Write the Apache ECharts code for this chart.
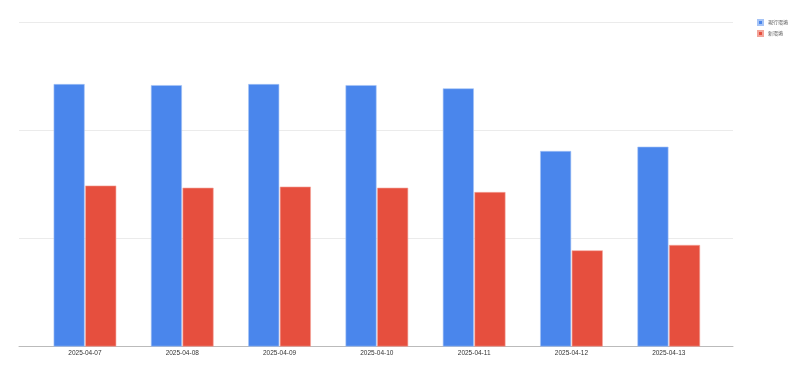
<!DOCTYPE html>
<html><head><meta charset="utf-8">
<script src="https://cdn.jsdelivr.net/npm/echarts@6/dist/echarts.min.js"></script>
<style>html,body{margin:0;padding:0;background:#fff}#c{width:800px;height:367px}</style>
</head><body><div id="c"></div>
<script>
var categories = ['2025-04-07','2025-04-08','2025-04-09','2025-04-10','2025-04-11','2025-04-12','2025-04-13'];
var seriesNames = ['現行環境','新環境'];
var currentValues = [243, 242, 243, 242, 239, 181, 185];
var newValues = [149, 147, 148, 147, 143, 89, 94];
var yTicks = [0, 100, 200, 300];

var chart = echarts.init(document.getElementById('c'), null, {renderer:'canvas'});
var yMax = yTicks[yTicks.length-1];
chart.setOption({
  animation:false,
  backgroundColor:'#fff',
  legend:{
    orient:'vertical', right:12, top:19, padding:0, itemWidth:5, itemHeight:5, itemGap:4,
    icon:'rect',
    textStyle:{fontSize:5, color:'#555', fontFamily:'Noto Sans CJK JP', padding:[0,0,0,0]},
    data:seriesNames
  },
  grid:[
    {left:19, right:67, top:22.5, bottom:20.5, containLabel:false},
    {left:36.3, right:82.6, top:22.5, bottom:20.5, containLabel:false}
  ],
  xAxis:[
    {gridIndex:0, type:'value', min:0, max:1, show:true,
     axisLine:{show:true, onZero:false, lineStyle:{color:'#bbb', width:1}},
     axisTick:{show:false}, axisLabel:{show:false}, splitLine:{show:false}},
    {gridIndex:1, type:'category', data:categories,
     axisLine:{show:false}, axisTick:{show:false},
     axisLabel:{fontSize:6.5, color:'#333', margin:3, fontFamily:'Arial'}}
  ],
  yAxis:[
    {gridIndex:0, type:'value', min:yTicks[0], max:yMax, interval:100,
     axisLabel:{show:false}, axisLine:{show:false}, axisTick:{show:false},
     splitLine:{lineStyle:{color:'#ebebeb', width:1}}},
    {gridIndex:1, type:'value', min:yTicks[0], max:yMax, interval:100,
     axisLabel:{show:false}, axisLine:{show:false}, axisTick:{show:false},
     splitLine:{show:false}}
  ],
  series:[
    {name:seriesNames[0], type:'bar', xAxisIndex:1, yAxisIndex:1, data:currentValues, barWidth:31, barGap:'2%',
     itemStyle:{color:'#4a86ec', borderColor:'#a6c4f6', borderWidth:0.6}},
    {name:seriesNames[1], type:'bar', xAxisIndex:1, yAxisIndex:1, data:newValues, barWidth:31,
     itemStyle:{color:'#e64f3e', borderColor:'#f3a49a', borderWidth:0.6}}
  ]
});
</script></body></html>
